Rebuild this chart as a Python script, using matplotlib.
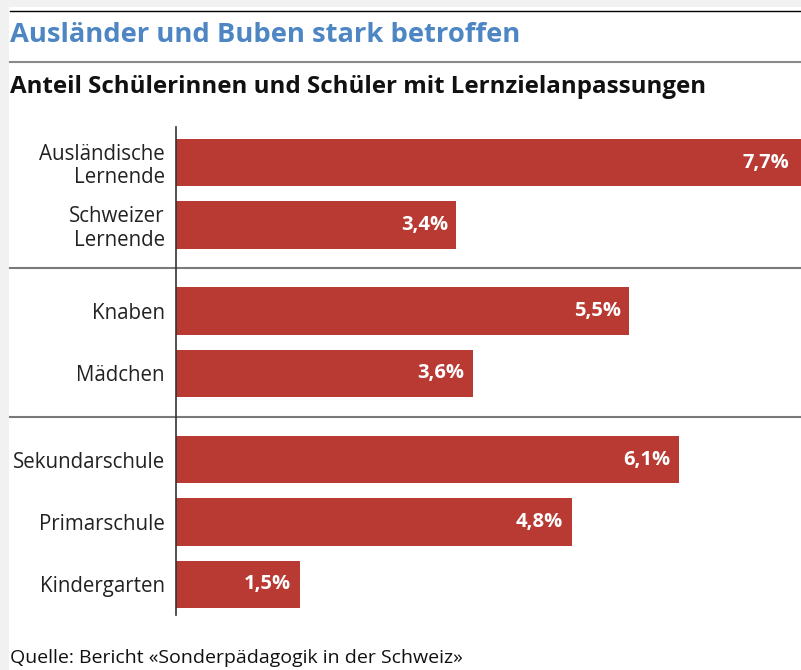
import matplotlib
matplotlib.use("Agg")
import matplotlib.pyplot as plt
from matplotlib.patches import Rectangle
from matplotlib.lines import Line2D

# ---- data ----
categories = ["Ausländische\nLernende", "Schweizer\nLernende",
              "Knaben", "Mädchen",
              "Sekundarschule", "Primarschule", "Kindergarten"]
values = [7.7, 3.4, 5.5, 3.6, 6.1, 4.8, 1.5]
groups = [2, 2, 3]
value_labels = ["7,7%", "3,4%", "5,5%", "3,6%", "6,1%", "4,8%", "1,5%"]

title = "Ausländer und Buben stark betroffen"
subtitle = "Anteil Schülerinnen und Schüler mit Lernzielanpassungen"
source = "Quelle: Bericht «Sonderpädagogik in der Schweiz»"

# ---- style ----
W, H = 801, 670
DPI = 100
RED = "#b93a33"
BLUE = "#4d86c3"
FONT = "Open Sans"
plt.rcParams["font.family"] = [FONT, "DejaVu Sans"]

fig = plt.figure(figsize=(W / DPI, H / DPI), dpi=DPI, facecolor="#f1f1f1")

def fx(px):
    return px / W

def fy(py):
    return 1 - py / H

# white panel
fig.add_artist(Rectangle((fx(9), 0), 1 - fx(9), fy(7), transform=fig.transFigure,
                         facecolor="white", edgecolor="none", zorder=0))

# top black rule and title rule
fig.add_artist(Line2D([fx(10), 1], [fy(11), fy(11)], color="black", lw=1.0))
fig.add_artist(Line2D([fx(10), 1], [fy(62), fy(62)], color="#8a8a8a", lw=1.5))

fig.text(fx(10), fy(42), title, color=BLUE, fontsize=19.7, fontweight="bold",
         ha="left", va="baseline")
fig.text(fx(10), fy(93), subtitle, color="#111111", fontsize=17.4, fontweight="bold",
         ha="left", va="baseline")
fig.text(fx(10), fy(663), source, color="#111111", fontsize=14,
         ha="left", va="baseline")

# ---- positions (groups separated by a gap) ----
GAP = 1.38
pos = []
y = 0.0
seps = []
for gi, n in enumerate(groups):
    for k in range(n):
        pos.append(y)
        y += 1.0
    if gi < len(groups) - 1:
        seps.append(pos[-1] + GAP / 2)
        y += GAP - 1.0

ax_left, ax_top, ax_bottom = 176, 127, 615
ax = fig.add_axes([fx(ax_left), fy(ax_bottom), 1 - fx(ax_left), (ax_bottom - ax_top) / H])
ax.set_facecolor("none")
XMAX = 7.585
ax.set_xlim(0, XMAX)
ax.set_ylim(pos[-1] + 0.49, pos[0] - 0.57)

ax.barh(pos, values, height=0.76, color=RED, edgecolor="none", zorder=2)

for p, v, lab in zip(pos, values, value_labels):
    xv = min(v, XMAX - 0.04)
    ax.annotate(lab, (xv, p), xytext=(-6, 0), textcoords="offset points",
                ha="right", va="center", color="white", fontsize=14.5,
                fontweight="bold", zorder=3, annotation_clip=False)

for s in seps:
    ax.axhline(s, xmin=-(ax_left - 10) / (W - ax_left), xmax=1, color="#7a7a7a",
               lw=1.5, clip_on=False, zorder=1)

ax.set_yticks(pos)
ax.set_yticklabels(categories, fontsize=14.8, color="#222222", linespacing=1.15)
ax.tick_params(axis="y", length=0, pad=8)
ax.set_xticks([])
for sp in ["top", "right", "bottom"]:
    ax.spines[sp].set_visible(False)
ax.spines["left"].set_color("#333333")
ax.spines["left"].set_linewidth(1.2)

fig.savefig("out.png", dpi=DPI, facecolor=fig.get_facecolor())
